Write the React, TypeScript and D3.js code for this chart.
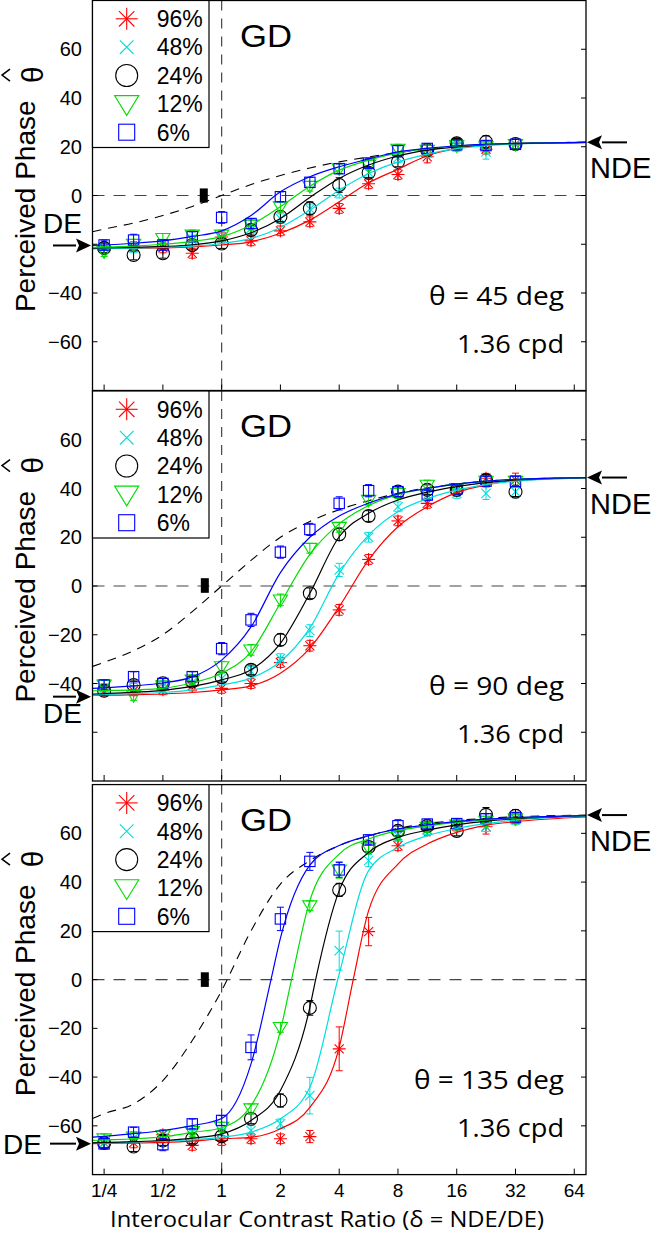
import React from 'react';
import * as d3 from 'd3';

type Pt = [number, number];

// x positions of the measurements (interocular contrast ratio)
const ratios = [0.25, 0.354, 0.5, 0.707, 1, 1.414, 2, 2.83, 4, 5.66, 8, 11.3, 16, 22.6, 32];
const xTicks = [0.25, 0.5, 1, 2, 4, 8, 16, 32, 64];
const xTickLabels = ['1/4', '1/2', '1', '2', '4', '8', '16', '32', '64'];
const yTicks = [60, 40, 20, 0, -20, -40, -60];
const legendLabels = ['96%', '48%', '24%', '12%', '6%'];
const angles = [45, 90, 135];
const hiddenYTick = [-20, -60, 999];
const ndeLevel = [21.8, 44.5, 67.5];
const deLevel = [-20.5, -45.4, -67.3];
const monoRatio = [0.81, 0.82, 0.82];
const monoValue = [0, 0.2, 0];
const monoErr = [2.9, 3, 3];

// ---- theta = 45 deg ----
const red45 = [-21.5, -21, -21.5, -23.7, -17, -18.6, -14.5, -10.8, -5.3, 4.8, 8.6, 15.9, 21.5, 19, 21];
const cyan45 = [-21.5, -21.5, -20, -18.3, -17.5, -13.5, -9.5, -5.5, 1, 9.5, 15.5, 17.5, 20, 17.9, 21];
const black45 = [-21.5, -24.4, -23.7, -20.3, -19.7, -14.2, -8.7, -5.3, 4.3, 9.3, 13.8, 18.6, 21.4, 22, 21.1];
const green45 = [-23, -20, -17.6, -16.2, -16.2, -12.1, -4.6, 3.8, 11, 12.5, 19, 18.6, 20.5, 20, 21];
const blue45 = [-20.3, -18.3, -20.3, -16.9, -9, -11.5, -0.5, 5.4, 11, 13.3, 18.4, 19.3, 20.8, 20.5, 21];
const red45Err = [2, 2, 2, 2, 2, 2, 2, 2, 2, 2, 2, 2.5, 2, 2, 2];
const cyan45Err = [2, 2, 2, 2, 2, 2, 2, 2, 2, 2, 2, 2, 2, 3, 2];
const black45Err = [2, 2, 2, 2, 2, 2, 2, 2.7, 3, 2, 2, 2, 2, 2.5, 2];
const green45Err = [2, 2, 2, 2, 2, 2, 2, 2, 2, 2, 2, 2, 2, 2, 2];
const blue45Err = [2, 2.4, 2, 2, 2.4, 2, 2, 2, 2, 2, 2, 2, 2, 2, 2];
const red45Fit: Pt[] = [[0.218, -21.8], [0.25, -21.8], [0.354, -21.7], [0.5, -21.5], [0.707, -21.1], [1, -20.3], [1.414, -19], [2, -15.5], [2.83, -10.1], [4, -2.6], [5.66, 5.2], [8, 10.8], [11.3, 16.3], [16, 19.3], [22.6, 20.7], [32, 21.4], [73.5, 21.8]];
const cyan45Fit: Pt[] = [[0.218, -21.7], [0.25, -21.7], [0.354, -21.6], [0.5, -21.3], [0.707, -20.8], [1, -19.7], [1.414, -17.6], [2, -13.1], [2.83, -6], [4, 2.2], [5.66, 9], [8, 13.8], [11.3, 17], [16, 19.2], [22.6, 20.5], [32, 21.2], [73.5, 21.7]];
const black45Fit: Pt[] = [[0.218, -21.6], [0.25, -21.5], [0.354, -21.3], [0.5, -20.9], [0.707, -20.2], [1, -18.6], [1.414, -15.3], [2, -9.4], [2.83, -0.8], [4, 7], [5.66, 12.5], [8, 16.2], [11.3, 18.6], [16, 20], [22.6, 20.9], [32, 21.3], [73.5, 21.8]];
const green45Fit: Pt[] = [[0.218, -21.3], [0.25, -21.2], [0.354, -20.8], [0.5, -20], [0.707, -18.8], [1, -16.9], [1.414, -12.1], [2, -4.6], [2.83, 3.8], [4, 10.4], [5.66, 14.5], [8, 17.5], [11.3, 19.2], [16, 20.3], [22.6, 21], [32, 21.4], [73.5, 21.8]];
const blue45Fit: Pt[] = [[0.218, -20.5], [0.25, -20.3], [0.354, -19.6], [0.5, -18.6], [0.707, -16.8], [1, -14.5], [1.414, -8.2], [2, 1.5], [2.83, 7.7], [4, 11.8], [5.66, 15], [8, 17.9], [11.3, 19.3], [16, 20.4], [22.6, 21.1], [32, 21.4], [73.5, 21.8]];
const model45: Pt[] = [[0.218, -14.9], [0.25, -13.8], [0.354, -11.3], [0.5, -8.2], [0.707, -4.5], [1, 0], [1.414, 4.5], [2, 8.2], [2.83, 11.3], [4, 13.8], [5.66, 15.8], [8, 17.6], [11.3, 19], [16, 20], [22.6, 20.8], [32, 21.3], [73.5, 21.9]];

// ---- theta = 90 deg ----
const red90 = [-43, -43, -42.6, -41, -42, -40, -31.4, -24.5, -9.8, 10.9, 26.7, 33.9, 39.4, 44.2, 43.5];
const cyan90 = [-42, -42, -41, -39.5, -38, -35, -29.8, -18.3, 6.6, 20, 32.5, 37.3, 38, 38, 38.7];
const black90 = [-43, -40.6, -39.9, -39.2, -37.4, -34.4, -22.1, -3, 21.2, 28.7, 38.7, 39.5, 39.4, 43.5, 38.7];
const green90 = [-40.6, -44.9, -41, -38.5, -33.1, -26.2, -5.7, 15.5, 24.1, 35.2, 38, 41.4, 40, 43, 43];
const blue90 = [-40.6, -37.2, -40, -37.2, -25.7, -13.9, 13.9, 23.2, 33.9, 39.1, 38.7, 37.3, 39.8, 43, 43];
const red90Err = [2, 2, 2, 2, 2, 2, 2, 2.2, 2.2, 2, 2, 2, 2, 2, 2.8];
const cyan90Err = [2, 2, 2, 2, 2, 2, 2, 2.4, 2.7, 2, 2, 2, 2, 2.5, 2.5];
const black90Err = [2, 2, 2, 2, 2, 2, 2.4, 2.2, 2.5, 2.2, 2, 2, 2, 2.2, 2];
const green90Err = [2, 2, 2, 2, 2.2, 2.2, 2.4, 2, 2, 2, 2, 2, 2, 2, 2];
const blue90Err = [2, 2, 2, 2, 2.5, 2.7, 2.5, 2.5, 2.7, 2.5, 2, 2, 2, 2, 2];
const red90Fit: Pt[] = [[0.218, -44.8], [0.25, -44.8], [0.354, -44.6], [0.5, -44.3], [0.707, -43.7], [1, -42.6], [1.414, -41], [2, -35.8], [2.83, -25.5], [4, -8.5], [5.66, 10.7], [8, 24.3], [11.3, 32.5], [16, 38.3], [22.6, 41.5], [32, 43.2], [73.5, 44.4]];
const cyan90Fit: Pt[] = [[0.218, -44.6], [0.25, -44.5], [0.354, -44.2], [0.5, -43.7], [0.707, -42.6], [1, -40.6], [1.414, -37.8], [2, -31], [2.83, -17.3], [4, 5.2], [5.66, 20.9], [8, 30.5], [11.3, 35.8], [16, 39.3], [22.6, 41.6], [32, 43], [73.5, 44.4]];
const black90Fit: Pt[] = [[0.218, -44.3], [0.25, -44.2], [0.354, -43.6], [0.5, -42.8], [0.707, -41.2], [1, -38.5], [1.414, -34.4], [2, -23.5], [2.83, -3], [4, 20.2], [5.66, 29.8], [8, 35.3], [11.3, 38.5], [16, 40.8], [22.6, 42.4], [32, 43.5], [73.5, 44.5]];
const green90Fit: Pt[] = [[0.218, -43], [0.25, -42.9], [0.354, -42.6], [0.5, -42], [0.707, -39.7], [1, -35.8], [1.414, -27], [2, -7], [2.83, 13], [4, 25.5], [5.66, 33], [8, 37.5], [11.3, 40], [16, 41.8], [22.6, 43], [32, 43.8], [73.5, 44.5]];
const blue90Fit: Pt[] = [[0.218, -42], [0.25, -41.8], [0.354, -41], [0.5, -39.8], [0.707, -37.3], [1, -30.4], [1.414, -16.8], [2, 5.5], [2.83, 20], [4, 28.7], [5.66, 34], [8, 37.8], [11.3, 40], [16, 41.8], [22.6, 43], [32, 43.8], [73.5, 44.5]];
const model90: Pt[] = [[0.218, -33], [0.25, -31.3], [0.354, -26.5], [0.5, -20], [0.707, -10.5], [1, 0], [1.414, 10.5], [2, 20], [2.83, 26.5], [4, 31.3], [5.66, 35], [8, 38], [11.3, 40.3], [16, 41.8], [22.6, 43], [32, 43.7], [73.5, 44.5]];

// ---- theta = 135 deg ----
const red135 = [-67, -67, -63.6, -68, -66, -65.3, -65.3, -64.4, -28.4, 19.7, 54.9, 61.5, 63, 62.7, 66];
const cyan135 = [-67, -65, -65, -64, -63, -61.9, -59.2, -47.6, 11.9, 48.8, 59, 61.5, 63.5, 62.7, 65.5];
const black135 = [-67, -68.5, -66, -65.3, -64.3, -57.1, -49.6, -11.6, 36.8, 54.4, 61, 63, 61, 67.6, 67.2];
const green135 = [-65.3, -64.5, -64, -62.3, -60.5, -53, -19.6, 30.3, 45, 54, 59.5, 62.5, 63.5, 65, 66];
const blue135 = [-67.4, -62.6, -67.7, -59.2, -57.8, -27.8, 24.9, 48.5, 45, 57.3, 63.1, 63.8, 64, 66, 66.5];
const red135Err = [2, 2, 2, 2, 2, 2, 2, 2.5, 9, 5.8, 2, 2.5, 2, 3, 2];
const cyan135Err = [2, 2, 2, 2, 2, 2, 2, 7.5, 8, 2.5, 2, 2, 2, 2, 2];
const black135Err = [2, 2, 2, 2, 2, 2, 2.7, 3, 2.7, 2, 2, 2, 2, 3, 2.5];
const green135Err = [2, 2, 2, 2, 2, 2, 2, 2, 3.4, 2, 2, 2, 2, 2, 2];
const blue135Err = [2, 2, 2.5, 2, 2, 5.1, 4.8, 3.7, 3, 2, 2.5, 2, 2, 2, 2];
const red135Fit: Pt[] = [[0.218, -67.3], [0.25, -67.2], [0.354, -67], [0.5, -66.8], [0.707, -66.3], [1, -65.3], [1.414, -64.7], [2, -61.2], [2.83, -52.4], [4, -27.8], [4.72, 0], [5.66, 28.3], [8, 47.4], [11.3, 55.6], [16, 60.4], [22.6, 63.3], [32, 64.8], [73.5, 66.7]];
const cyan135Fit: Pt[] = [[0.218, -67], [0.25, -67], [0.354, -66.7], [0.5, -66.3], [0.707, -65.7], [1, -64.7], [1.414, -62.6], [2, -57.1], [2.83, -44.2], [4, 2.3], [5.66, 44.7], [8, 54.2], [11.3, 59], [16, 62], [22.6, 64], [32, 65.5], [73.5, 67]];
const black135Fit: Pt[] = [[0.218, -67], [0.25, -66.8], [0.354, -66.5], [0.5, -66], [0.707, -65], [1, -63.3], [1.414, -57.8], [2, -45.5], [2.83, -11.4], [3.03, 0], [4, 36.5], [5.66, 52.2], [8, 58.3], [11.3, 61.3], [16, 63.5], [22.6, 65], [32, 66], [73.5, 67.3]];
const green135Fit: Pt[] = [[0.218, -66], [0.25, -65.8], [0.354, -65.3], [0.5, -64.5], [0.707, -62.7], [1, -60.8], [1.414, -51.7], [2, -20.9], [2.28, 0], [2.83, 32.4], [4, 51.5], [5.66, 57.7], [8, 61.1], [11.3, 63], [16, 64.5], [22.6, 65.5], [32, 66.3], [73.5, 67.3]];
const blue135Fit: Pt[] = [[0.218, -64.6], [0.25, -64.3], [0.354, -63.2], [0.5, -61.9], [0.707, -59.9], [1, -57], [1.414, -34.6], [1.79, 0], [2, 17], [2.83, 47], [4, 55], [5.66, 59], [8, 61.8], [11.3, 63.5], [16, 64.8], [22.6, 65.8], [32, 66.5], [73.5, 67.3]];
const model135: Pt[] = [[0.218, -57], [0.25, -55], [0.354, -51], [0.5, -41.4], [0.707, -25], [1, -4.5], [1.414, 20], [2, 39.2], [2.83, 48.8], [4, 55], [5.66, 59], [8, 62], [11.3, 64], [16, 65.3], [22.6, 66.2], [32, 66.8], [73.5, 67.5]];

const colors = ['#ff0000', '#00dede', '#000000', '#00dd00', '#0000ff'];
const markers = ['star', 'x', 'circle', 'tri', 'square'];

const panels = [
  { means: [red45, cyan45, black45, green45, blue45], errs: [red45Err, cyan45Err, black45Err, green45Err, blue45Err], fits: [red45Fit, cyan45Fit, black45Fit, green45Fit, blue45Fit], model: model45 },
  { means: [red90, cyan90, black90, green90, blue90], errs: [red90Err, cyan90Err, black90Err, green90Err, blue90Err], fits: [red90Fit, cyan90Fit, black90Fit, green90Fit, blue90Fit], model: model90 },
  { means: [red135, cyan135, black135, green135, blue135], errs: [red135Err, cyan135Err, black135Err, green135Err, blue135Err], fits: [red135Fit, cyan135Fit, black135Fit, green135Fit, blue135Fit], model: model135 },
];

const W = 654;
const H = 1234;
const plotLeft = 92.5;
const plotRight = 586;
const panelTops = [0.5, 391, 784.6];
const panelH = 390;
const FONT = '"Liberation Sans", Arial, sans-serif';
const FONT2 = '"Open Sans", "Liberation Sans", sans-serif';

const x = d3.scaleLog().base(2).domain([0.218, 73.5]).range([plotLeft, plotRight]);

function Marker({ kind, cx, cy, s, color }: { kind: string; cx: number; cy: number; s: number; color: string }) {
  const sw = 1.1;
  if (kind === 'circle') return <circle cx={cx} cy={cy} r={s} fill="none" stroke={color} strokeWidth={sw} />;
  if (kind === 'square') return <rect x={cx - s * 0.8} y={cy - s * 0.8} width={s * 1.6} height={s * 1.6} fill="none" stroke={color} strokeWidth={sw} />;
  if (kind === 'tri') {
    const p = `${cx - s * 1.1},${cy - s * 0.75} ${cx + s * 1.1},${cy - s * 0.75} ${cx},${cy + s * 1.05}`;
    return <polygon points={p} fill="none" stroke={color} strokeWidth={sw} />;
  }
  if (kind === 'x') {
    const a = s * 0.72;
    return (
      <g stroke={color} strokeWidth={sw}>
        <line x1={cx - a} y1={cy - a} x2={cx + a} y2={cy + a} />
        <line x1={cx - a} y1={cy + a} x2={cx + a} y2={cy - a} />
      </g>
    );
  }
  const a = s * 0.7;
  return (
    <g stroke={color} strokeWidth={sw}>
      <line x1={cx - s} y1={cy} x2={cx + s} y2={cy} />
      <line x1={cx} y1={cy - s} x2={cx} y2={cy + s} />
      <line x1={cx - a} y1={cy - a} x2={cx + a} y2={cy + a} />
      <line x1={cx - a} y1={cy + a} x2={cx + a} y2={cy - a} />
    </g>
  );
}

function Arrow({ x1, x2, y }: { x1: number; x2: number; y: number }) {
  // x2 is the tip
  const dir = x2 > x1 ? 1 : -1;
  const back = x2 - dir * 15;
  return (
    <g>
      <line x1={x1} y1={y} x2={back} y2={y} stroke="#000" strokeWidth={2} />
      <polygon points={`${x2},${y} ${back},${y - 7} ${back + dir * 3},${y} ${back},${y + 7}`} fill="#000" />
    </g>
  );
}

function Panel({ idx }: { idx: number }) {
  const top = panelTops[idx];
  const bottom = top + panelH;
  const y = d3.scaleLinear().domain([-80, 80]).range([bottom, top]);
  const p = panels[idx];
  const line = d3.line<Pt>().x(d => x(d[0])).y(d => y(d[1])).curve(d3.curveMonotoneX);
  const clipId = `clip${idx}`;
  const ndeY = y(ndeLevel[idx]);
  const deY = y(deLevel[idx]);

  return (
    <g>
      <defs>
        <clipPath id={clipId}>
          <rect x={plotLeft} y={top} width={plotRight - plotLeft} height={panelH} />
        </clipPath>
      </defs>
      <rect x={plotLeft} y={top} width={plotRight - plotLeft} height={panelH} fill="#fff" />
      <g clipPath={`url(#${clipId})`}>
        <line x1={x(1)} x2={x(1)} y1={top} y2={bottom} stroke="#444" strokeWidth={1.2} strokeDasharray="10,8" />
        <line x1={plotLeft} x2={plotRight} y1={y(0)} y2={y(0)} stroke="#444" strokeWidth={1.2} strokeDasharray="12,9" />
        <path d={line(p.model) || ''} fill="none" stroke="#000" strokeWidth={1.1} strokeDasharray="9,7" />
        {p.means.map((vals, s) => (
          <g key={`m${s}`}>
            {vals.map((v, i) => {
              const cx = x(ratios[i]);
              const e = p.errs[s][i];
              return (
                <g key={i} stroke={colors[s]} strokeWidth={1}>
                  <line x1={cx} x2={cx} y1={y(v - e)} y2={y(v + e)} />
                  <line x1={cx - 3.5} x2={cx + 3.5} y1={y(v - e)} y2={y(v - e)} />
                  <line x1={cx - 3.5} x2={cx + 3.5} y1={y(v + e)} y2={y(v + e)} />
                </g>
              );
            })}
            {vals.map((v, i) => (
              <Marker key={`k${i}`} kind={markers[s]} cx={x(ratios[i])} cy={y(v)} s={6.5} color={colors[s]} />
            ))}
          </g>
        ))}
        {p.fits.map((f, s) => (
          <path key={`f${s}`} d={line(f) || ''} fill="none" stroke={colors[s]} strokeWidth={1.2} />
        ))}
        <rect
          x={x(monoRatio[idx]) - 4}
          width={8}
          y={y(monoValue[idx] + monoErr[idx])}
          height={y(monoValue[idx] - monoErr[idx]) - y(monoValue[idx] + monoErr[idx])}
          fill="#000"
        />
      </g>
      {/* frame and ticks */}
      <rect x={plotLeft} y={top} width={plotRight - plotLeft} height={panelH} fill="none" stroke="#000" strokeWidth={1.3} />
      {xTicks.map(t => (
        <line key={`xt${t}`} x1={x(t)} x2={x(t)} y1={bottom} y2={bottom - 6} stroke="#000" strokeWidth={1} />
      ))}
      {yTicks.map(t => (
        <g key={`yt${t}`}>
          <line x1={plotLeft} x2={plotLeft + 5} y1={y(t)} y2={y(t)} stroke="#000" strokeWidth={1} />
          <line x1={plotRight} x2={plotRight - 5} y1={y(t)} y2={y(t)} stroke="#000" strokeWidth={1} />
          {t !== hiddenYTick[idx] && (
            <text x={82} y={y(t) + 7} textAnchor="end" fontFamily={FONT} fontSize={20}>
              {t < 0 ? `\u2212${-t}` : `${t}`}
            </text>
          )}
        </g>
      ))}
      {/* legend */}
      <rect x={plotLeft} y={top} width={209 - plotLeft} height={147} fill="#fff" stroke="#000" strokeWidth={1.2} />
      {legendLabels.map((lab, s) => {
        const cy = top + 18.3 + s * 28.35;
        return (
          <g key={lab}>
            <Marker kind={markers[s]} cx={126.7} cy={cy} s={s === 1 ? 9.5 : s === 4 ? 10 : 11} color={colors[s]} />
            <text x={156.7} y={cy + 8.3} fontFamily={FONT} fontSize={23}>{lab}</text>
          </g>
        );
      })}
      <text x={240} y={top + 46} fontFamily={FONT} fontSize={31} textLength={52} lengthAdjust="spacingAndGlyphs">GD</text>
      <text x={564} y={top + 304} textAnchor="end" fontFamily={FONT2} fontSize={25}
        textLength={angles[idx] > 99 ? 150 : 135} lengthAdjust="spacingAndGlyphs">
        {`\u03b8 = ${angles[idx]} deg`}
      </text>
      <text x={564} y={top + 352} textAnchor="end" fontFamily={FONT2} fontSize={25}
        textLength={107} lengthAdjust="spacingAndGlyphs">1.36 cpd</text>
      {/* NDE / DE markers */}
      <Arrow x1={627} x2={587} y={ndeY} />
      <text x={590} y={ndeY + 36} fontFamily={FONT} fontSize={29}>NDE</text>
      {idx === 2 ? (
        <g>
          <Arrow x1={50} x2={91} y={deY} />
          <text x={3} y={deY + 10.5} fontFamily={FONT} fontSize={28}>DE</text>
        </g>
      ) : (
        <g>
          <Arrow x1={53} x2={91} y={deY} />
          <text x={43} y={idx === 0 ? deY - 12 : deY + 26} fontFamily={FONT} fontSize={28}>DE</text>
        </g>
      )}
      {/* y label */}
      <g transform={`translate(35,${y(0) + 116.6}) rotate(-90)`}>
        <text x={0} y={0} fontFamily={FONT} fontSize={28}>Perceived Phase</text>
        <text x={229} y={8} fontFamily={FONT} fontSize={30}>{'\u03b8'}</text>
        <polyline points="231,-25 237,-33 243,-25" fill="none" stroke="#000" strokeWidth={1.5} />
      </g>
    </g>
  );
}

export default function App() {
  const last = panelTops[2] + panelH;
  return (
    <svg width={W} height={H} style={{ position: 'absolute', left: 0, top: 0, background: '#fff' }}>
      <rect x={0} y={0} width={W} height={H} fill="#fff" />
      {[0, 1, 2].map(i => <Panel key={i} idx={i} />)}
      {xTicks.map((t, i) => (
        <text key={t} x={x(t)} y={last + 22} textAnchor="middle" fontFamily={FONT} fontSize={19}>{xTickLabels[i]}</text>
      ))}
      <text x={327} y={1227} textAnchor="middle" fontFamily={FONT2} fontSize={21} textLength={434} lengthAdjust="spacingAndGlyphs">
        {'Interocular Contrast Ratio (\u03b4 = NDE/DE)'}
      </text>
    </svg>
  );
}
